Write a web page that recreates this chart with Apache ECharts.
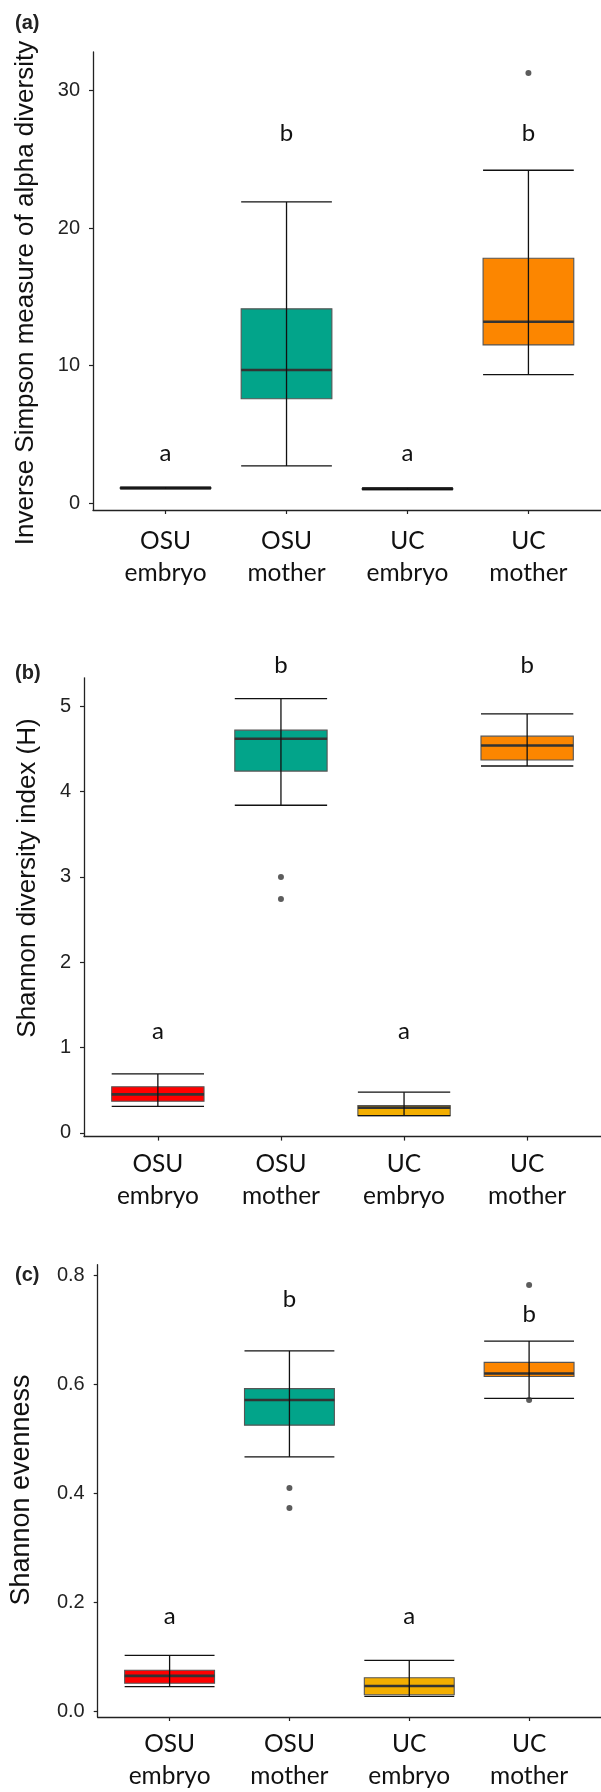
<!DOCTYPE html>
<html>
<head>
<meta charset="utf-8">
<script src="https://cdn.jsdelivr.net/npm/echarts@6/dist/echarts.min.js"></script>
<style>
html,body{margin:0;padding:0;background:#fff;}
#chart{width:601px;height:1792px;}
</style>
</head>
<body>
<div id="chart"></div>
<script>
// ---------- data ----------
const categories = ['OSU\nembryo', 'OSU\nmother', 'UC\nembryo', 'UC\nmother'];
const boxColors = ['#FF0000', '#02A48A', '#F3AE00', '#FC8600'];

// [min, q1, median, q3, max]
const invSimpsonStats = [
  [1.03, 1.06, 1.09, 1.12, 1.15],
  [2.70, 7.58, 9.67, 14.12, 21.9],
  [0.98, 1.01, 1.03, 1.06, 1.09],
  [9.33, 11.5, 13.18, 17.8, 24.2]
];
const invSimpsonOutliers = [[4, 31.28]];
const invSimpsonLetters = ['a', 'b', 'a', 'b'];
const invSimpsonLetterY = [3.6, 26.9, 3.6, 26.9];
const invSimpsonTicks = [0, 10, 20, 30];

const shannonStats = [
  [0.31, 0.37, 0.45, 0.54, 0.69],
  [3.84, 4.24, 4.62, 4.72, 5.09],
  [0.20, 0.20, 0.295, 0.32, 0.476],
  [4.30, 4.37, 4.54, 4.65, 4.91]
];
const shannonOutliers = [[2, 3.00], [2, 2.74]];
const shannonLetters = ['a', 'b', 'a', 'b'];
const shannonLetterY = [1.19, 5.48, 1.19, 5.48];
const shannonTicks = [0, 1, 2, 3, 4, 5];

const evennessStats = [
  [0.046, 0.052, 0.0655, 0.076, 0.103],
  [0.467, 0.525, 0.571, 0.592, 0.661],
  [0.028, 0.031, 0.047, 0.062, 0.094],
  [0.574, 0.614, 0.6195, 0.640, 0.679]
];
const evennessOutliers = [[2, 0.410], [2, 0.373], [4, 0.782], [4, 0.571]];
const evennessLetters = ['a', 'b', 'a', 'b'];
const evennessLetterY = [0.175, 0.755, 0.175, 0.729];
const evennessTicks = [0, 0.2, 0.4, 0.6, 0.8];

// ---------- layout ----------
const panels = [
  {stats: invSimpsonStats, out: invSimpsonOutliers, letters: invSimpsonLetters, letterY: invSimpsonLetterY, ticks: invSimpsonTicks,
   grid: {left: 93, top: 52, width: 512.4, height: 458}, ymin: -0.509, ymax: 32.8, fmt: v => String(v), labMargin: 15,
   title: 'Inverse Simpson measure of alpha diversity', tx: 25.5, ty: 293, tsize: 26, tag: '(a)', tagY: 23},
  {stats: shannonStats, out: shannonOutliers, letters: shannonLetters, letterY: shannonLetterY, ticks: shannonTicks,
   grid: {left: 84, top: 677.8, width: 520, height: 458.8}, ymin: -0.045, ymax: 5.334, fmt: v => String(v), labMargin: 11,
   title: 'Shannon diversity index (H)', tx: 28, ty: 878, tsize: 26, tag: '(b)', tagY: 673},
  {stats: evennessStats, out: evennessOutliers, letters: evennessLetters, letterY: evennessLetterY, ticks: evennessTicks,
   grid: {left: 97.7, top: 1264.7, width: 507.8, height: 456.2}, ymin: -0.0098, ymax: 0.819, fmt: v => v.toFixed(1), labMargin: 11,
   title: 'Shannon evenness', tx: 22, ty: 1490, tsize: 27, tag: '(c)', tagY: 1275}
];

const axisColor = '#222';
const grids = [], xAxes = [], yAxes = [], series = [], graphics = [];

panels.forEach((p, i) => {
  grids.push(Object.assign({containLabel: false}, p.grid));
  xAxes.push({
    type: 'value', gridIndex: i, min: 0.4, max: 4.6,
    splitLine: {show: false},
    axisLine: {show: true, onZero: false, lineStyle: {color: axisColor, width: 1.3}},
    axisTick: {show: true, length: 4, lineStyle: {color: axisColor, width: 1.2}, customValues: [1, 2, 3, 4]},
    axisLabel: {customValues: [1, 2, 3, 4], formatter: v => categories[Math.round(v) - 1],
      fontFamily: 'Lato', fontSize: 24.5, lineHeight: 32, color: '#111', margin: p.labMargin}
  });
  yAxes.push({
    type: 'value', gridIndex: i, min: p.ymin, max: p.ymax,
    splitLine: {show: false},
    axisLine: {show: true, onZero: false, lineStyle: {color: axisColor, width: 1.3}},
    axisTick: {show: true, length: 4, lineStyle: {color: axisColor, width: 1.2}, customValues: p.ticks},
    axisLabel: {customValues: p.ticks, formatter: p.fmt, fontFamily: 'Liberation Sans', fontSize: 20, color: '#222', margin: 13}
  });

  // boxes
  series.push({
    type: 'custom', xAxisIndex: i, yAxisIndex: i, clip: false,
    data: p.stats.map((s, k) => [k + 1].concat(s)),
    renderItem: function (params, api) {
      const x = api.value(0);
      const k = params.dataIndex;
      const half = api.size([0.75, 0])[0] / 2;
      const cx = api.coord([x, 0])[0];
      const yMin = api.coord([x, api.value(1)])[1];
      const yQ1 = api.coord([x, api.value(2)])[1];
      const yMed = api.coord([x, api.value(3)])[1];
      const yQ3 = api.coord([x, api.value(4)])[1];
      const yMax = api.coord([x, api.value(5)])[1];
      return {
        type: 'group',
        children: [
          {type: 'rect', shape: {x: cx - half, y: yQ3, width: 2 * half, height: yQ1 - yQ3},
           style: {fill: boxColors[k], stroke: '#555', lineWidth: 1.1}},
          {type: 'line', shape: {x1: cx - half, y1: yMed, x2: cx + half, y2: yMed},
           style: {stroke: '#333', lineWidth: 2.6}},
          {type: 'line', shape: {x1: cx, y1: yMin, x2: cx, y2: yMax},
           style: {stroke: '#111', lineWidth: 1.3}},
          {type: 'line', shape: {x1: cx - half, y1: yMin, x2: cx + half, y2: yMin},
           style: {stroke: '#111', lineWidth: 1.3}},
          {type: 'line', shape: {x1: cx - half, y1: yMax, x2: cx + half, y2: yMax},
           style: {stroke: '#111', lineWidth: 1.3}}
        ]
      };
    }
  });

  // outliers
  series.push({
    type: 'scatter', xAxisIndex: i, yAxisIndex: i,
    data: p.out, symbol: 'circle', symbolSize: 6,
    itemStyle: {color: '#333'}, silent: true
  });

  // significance letters
  series.push({
    type: 'custom', xAxisIndex: i, yAxisIndex: i, clip: false,
    data: p.letters.map((l, k) => [k + 1, p.letterY[k]]),
    renderItem: function (params, api) {
      const pt = api.coord([api.value(0), api.value(1)]);
      return {type: 'text', x: pt[0], y: pt[1],
        style: {text: p.letters[params.dataIndex], font: '24px Lato', fill: '#111', textAlign: 'center', textVerticalAlign: 'middle'}};
    }
  });

  graphics.push({type: 'text', x: p.tx, y: p.ty, rotation: Math.PI / 2,
    style: {text: p.title, font: p.tsize + 'px "Liberation Sans"', fill: '#111', textAlign: 'center', textVerticalAlign: 'middle'}});
  graphics.push({type: 'text', x: 15, y: p.tagY,
    style: {text: p.tag, font: 'bold 20px "Liberation Sans"', fill: '#222', textAlign: 'left', textVerticalAlign: 'middle'}});
});

const chart = echarts.init(document.getElementById('chart'), null, {renderer: 'canvas'});
chart.setOption({
  animation: false,
  backgroundColor: '#fff',
  grid: grids,
  xAxis: xAxes,
  yAxis: yAxes,
  series: series,
  graphic: graphics
});
</script>
</body>
</html>
